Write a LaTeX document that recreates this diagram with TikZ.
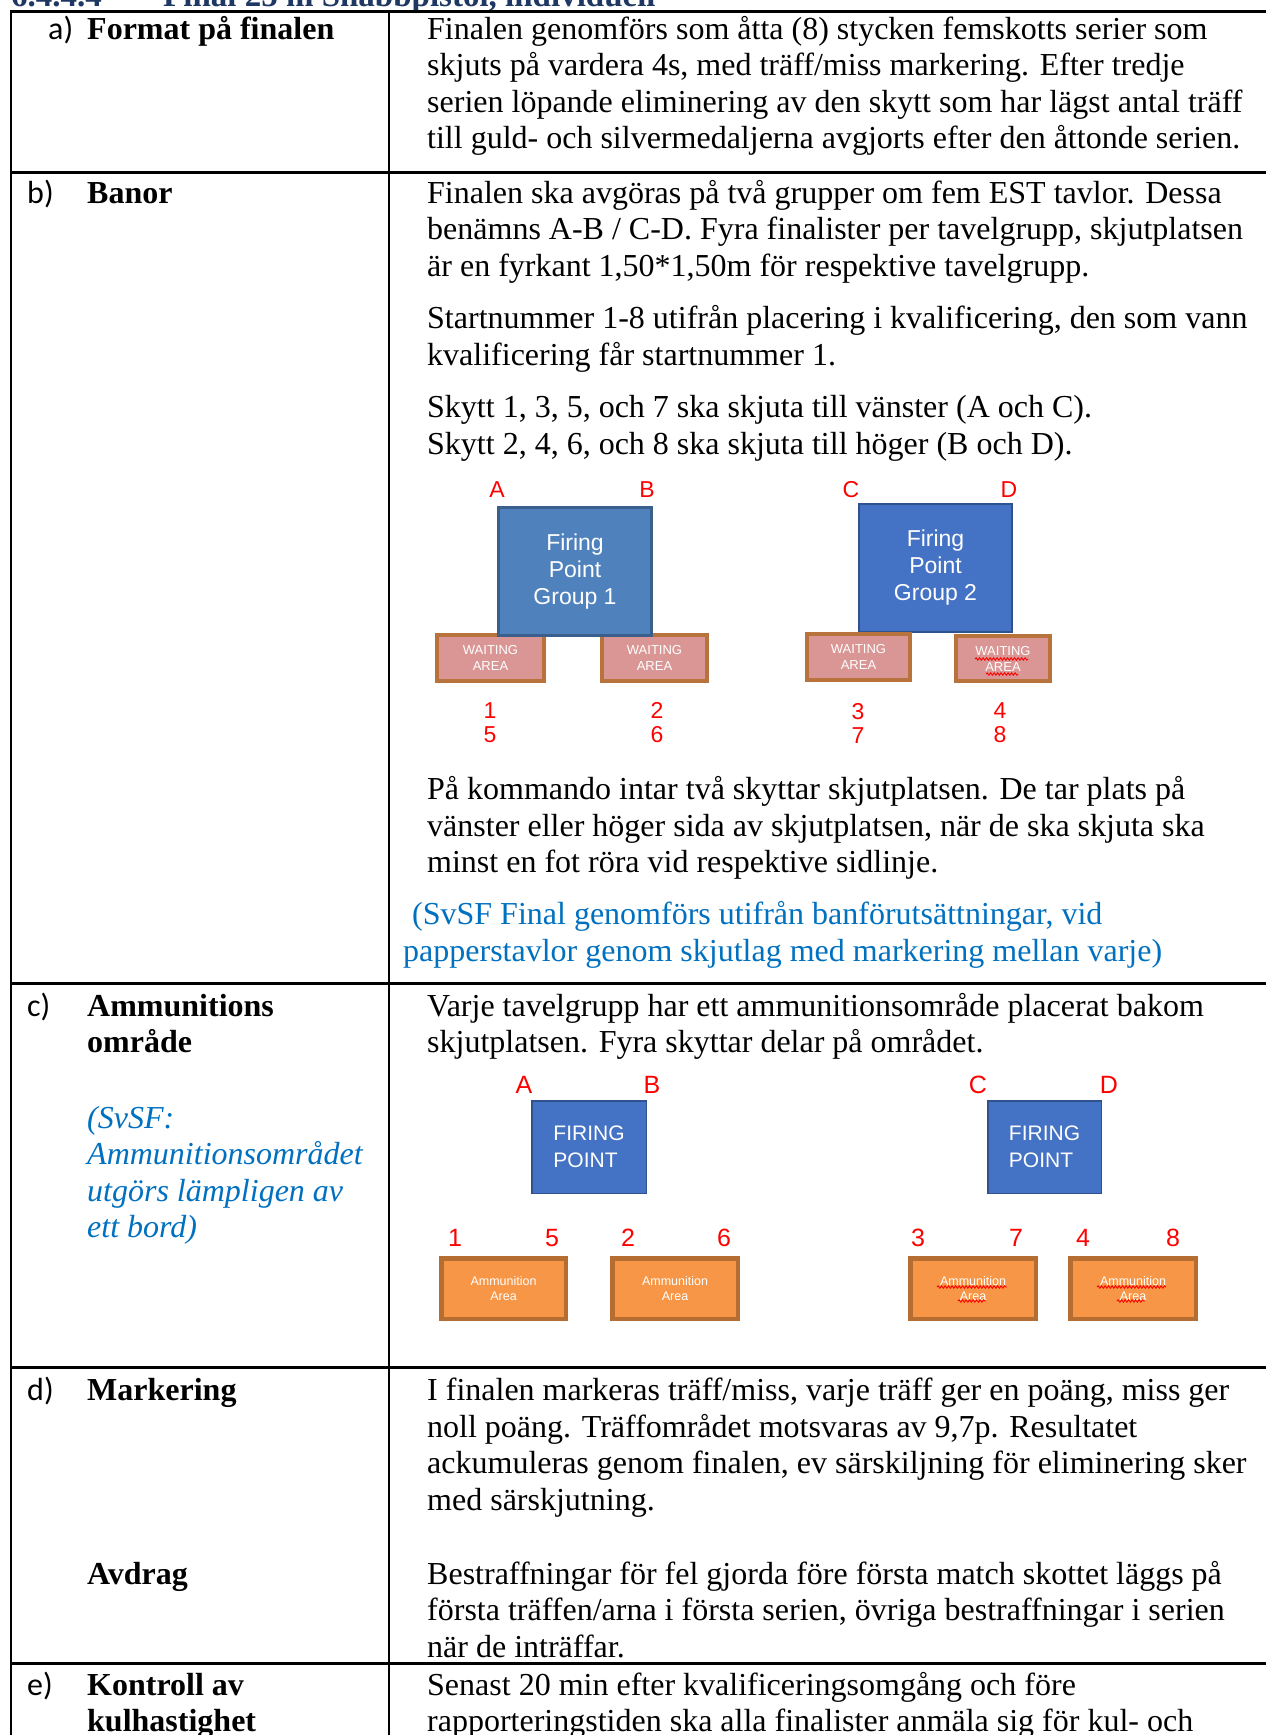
\documentclass[tikz,border=0pt]{standalone}
\usepackage{fontspec}
\setmainfont{Liberation Serif}
\newfontfamily\arialf{Liberation Sans}
\newfontfamily\calf{Carlito}
\usetikzlibrary{decorations.pathmorphing}
\definecolor{fpone}{HTML}{4F81BD}
\definecolor{fponeb}{HTML}{3A5F8C}
\definecolor{fptwo}{HTML}{4472C4}
\definecolor{fptwob}{HTML}{2F528F}
\definecolor{waitf}{HTML}{D99694}
\definecolor{waitb}{HTML}{B8733D}
\definecolor{ammof}{HTML}{F79646}
\definecolor{ammob}{HTML}{B66D31}
\definecolor{noteblue}{HTML}{0070C0}
\definecolor{headblue}{HTML}{1F3763}
\definecolor{mark}{HTML}{FF0000}
\begin{document}
\begin{tikzpicture}[x=1pt,y=-1pt,
  body/.style={anchor=base west, inner sep=0, font=\fontsize{32}{36.5}\selectfont},
  note/.style={body, text=noteblue},
  inote/.style={body, text=noteblue, font=\itshape\fontsize{32}{36.5}\selectfont},
  lbl/.style={anchor=base west, inner sep=0, font=\bfseries\fontsize{32}{36.5}\selectfont},
  tag/.style={anchor=base west, inner sep=0, font=\calf\fontsize{32}{36.5}\selectfont},
  head/.style={anchor=base west, inner sep=0, text=headblue, font=\bfseries\fontsize{33}{36}\selectfont},
  rule/.style={line width=3pt},
  vrule/.style={line width=2pt},
  letterA/.style={inner sep=0, text=mark, font=\arialf\fontsize{23}{24}\selectfont, align=center},
  letterB/.style={inner sep=0, text=mark, font=\arialf\fontsize{25}{25}\selectfont, align=center},
  fpbox/.style={draw=fponeb, fill=fpone, line width=3pt, text=white, inner sep=0,
    font=\arialf\fontsize{23}{27}\selectfont, align=center},
  fpboxb/.style={draw=fptwob, fill=fptwo, line width=2pt, text=white, inner sep=0,
    font=\arialf\fontsize{23}{27}\selectfont, align=center},
  fpsmall/.style={draw=fptwob, fill=fptwo, line width=1.5pt, text=white, inner sep=0,
    font=\arialf\fontsize{21}{27}\selectfont, align=left},
  waitbox/.style={draw=waitb, fill=waitf, line width=4pt, text=white, inner sep=0,
    font=\arialf\fontsize{13}{16}\selectfont, align=center},
  ammobox/.style={draw=ammob, fill=ammof, line width=4.5pt, text=white, inner sep=0,
    font=\arialf\fontsize{12.5}{14.5}\selectfont, align=center},
  squig/.style={draw=mark, line width=0.9pt, decorate, decoration={snake, amplitude=1.2pt, segment length=3.5pt}}
]
\useasboundingbox (0,0) rectangle (1266,1735);
\clip (0,0) rectangle (1266,1735);
\fill[white] (0,0) rectangle (1266,1735);

% heading (cut off at top)
\node[head] (h1) at (11,6) {6.4.4.4};
\node[head] (h2) at (163,6) {Final 25 m Snabbpistol, individuell};

% table rules
\draw[vrule] (11,10) -- (11,1735);
\draw[vrule] (389,10) -- (389,1735);
\draw[rule] (10,11) -- (1266,11);
\draw[rule] (10,172) -- (1266,172);
\draw[rule] (10,983) -- (1266,983);
\draw[rule] (10,1367) -- (1266,1367);
\draw[rule] (10,1663) -- (1266,1663);

% row a
\node[tag] (ta) at (48,39) {a)};
\node[lbl] (la) at (87,39) {Format på finalen};
\node[body] (a1) at (427,39) {Finalen genomförs som åtta (8) stycken femskotts serier som};
\node[body] (a2) at (427,75.5) {skjuts på vardera 4s, med träff/miss markering. Efter tredje};
\node[body] (a3) at (427,112) {serien löpande eliminering av den skytt som har lägst antal träff};
\node[body] (a4) at (427,148.5) {till guld- och silvermedaljerna avgjorts efter den åttonde serien.};

% row b
\node[tag] (tb) at (27,203) {b)};
\node[lbl] (lb) at (87,203) {Banor};
\node[body] (b1) at (427,203) {Finalen ska avgöras på två grupper om fem EST tavlor. Dessa};
\node[body] (b2) at (427,239.5) {benämns A-B / C-D. Fyra finalister per tavelgrupp, skjutplatsen};
\node[body] (b3) at (427,276) {är en fyrkant 1,50*1,50m för respektive tavelgrupp.};
\node[body] (b4) at (427,328.5) {Startnummer 1-8 utifrån placering i kvalificering, den som vann};
\node[body] (b5) at (427,365) {kvalificering får startnummer 1.};
\node[body] (b6) at (427,417.5) {Skytt 1, 3, 5, och 7 ska skjuta till vänster (A och C).};
\node[body] (b7) at (427,454) {Skytt 2, 4, 6, och 8 ska skjuta till höger (B och D).};
\node[body] (b8) at (427,799) {På kommando intar två skyttar skjutplatsen. De tar plats på};
\node[body] (b9) at (427,836) {vänster eller höger sida av skjutplatsen, när de ska skjuta ska};
\node[body] (b10) at (427,872) {minst en fot röra vid respektive sidlinje.};
\node[note] (b11) at (412,924) {(SvSF Final genomförs utifrån banförutsättningar, vid};
\node[note] (b12) at (403,961) {papperstavlor genom skjutlag med markering mellan varje)};

% diagram 1
\node[waitbox, minimum width=107, minimum height=46] (wa1) at (490.5,658) {WAITING\\AREA};
\node[waitbox, minimum width=105, minimum height=46] (wa2) at (654.5,658) {WAITING\\AREA};
\node[fpbox, minimum width=153, minimum height=128] (fg1) at (575,571.5) {Firing\\Point\\Group 1};
\node[fpboxb, minimum width=153, minimum height=128] (fg2) at (935.5,568) {Firing\\Point\\Group 2};
\node[waitbox, minimum width=103, minimum height=46] (wa3) at (858.5,657) {WAITING\\AREA};
\node[waitbox, minimum width=94, minimum height=45] (wa4) at (1003,658.5) {WAITING\\AREA};
\draw[squig] (975,659) -- (1028,659);
\draw[squig] (986,674) -- (1018,674);
\node[letterA] (dA) at (497,490) {A};
\node[letterA] (dB) at (647,490) {B};
\node[letterA] (dC) at (851,490) {C};
\node[letterA] (dD) at (1009,490) {D};
\node[letterA] (n15) at (490,723) {1\\5};
\node[letterA] (n26) at (657,723) {2\\6};
\node[letterA] (n37) at (858,723) {3\\7};
\node[letterA] (n48) at (1000,723) {4\\8};

% row c
\node[tag] (tc) at (27,1016) {c)};
\node[lbl] (lc1) at (87,1016) {Ammunitions};
\node[lbl] (lc2) at (87,1052) {område};
\node[inote] (ic1) at (87,1128) {(SvSF:};
\node[inote] (ic2) at (87,1164.5) {Ammunitionsområdet};
\node[inote] (ic3) at (87,1201) {utgörs lämpligen av};
\node[inote] (ic4) at (87,1237.5) {ett bord)};
\node[body] (c1) at (427,1016) {Varje tavelgrupp har ett ammunitionsområde placerat bakom};
\node[body] (c2) at (427,1052) {skjutplatsen. Fyra skyttar delar på området.};

% diagram 2
\node[fpsmall, minimum width=114.5, minimum height=92.5] (fp1) at (589,1147) {FIRING\\POINT};
\node[fpsmall, minimum width=113.5, minimum height=92.5] (fp2) at (1044.5,1147) {FIRING\\POINT};
\node[letterB] (eA) at (524,1085) {A};
\node[letterB] (eB) at (652,1085) {B};
\node[letterB] (eC) at (978,1085) {C};
\node[letterB] (eD) at (1109,1085) {D};
\node[letterB] (m1) at (455,1238) {1};
\node[letterB] (m5) at (552,1238) {5};
\node[letterB] (m2) at (628,1238) {2};
\node[letterB] (m6) at (724,1238) {6};
\node[letterB] (m3) at (918,1238) {3};
\node[letterB] (m7) at (1016,1238) {7};
\node[letterB] (m4) at (1083,1238) {4};
\node[letterB] (m8) at (1173,1238) {8};
\node[ammobox, minimum width=124.5, minimum height=60.5] (aa1) at (503.5,1288.5) {Ammunition\\Area};
\node[ammobox, minimum width=125.5, minimum height=60.5] (aa2) at (675,1288.5) {Ammunition\\Area};
\node[ammobox, minimum width=125.5, minimum height=60.5] (aa3) at (973,1288.5) {Ammunition\\Area};
\node[ammobox, minimum width=125.5, minimum height=60.5] (aa4) at (1133,1288.5) {Ammunition\\Area};
\draw[squig] (937,1287) -- (1007,1287);
\draw[squig] (958,1301) -- (986,1301);
\draw[squig] (1097,1287) -- (1166,1287);
\draw[squig] (1117,1301) -- (1145,1301);

% row d
\node[tag] (td) at (27,1400) {d)};
\node[lbl] (ld1) at (87,1400) {Markering};
\node[lbl] (ld2) at (87,1584) {Avdrag};
\node[body] (d1) at (427,1400) {I finalen markeras träff/miss, varje träff ger en poäng, miss ger};
\node[body] (d2) at (427,1437) {noll poäng. Träffområdet motsvaras av 9,7p. Resultatet};
\node[body] (d3) at (427,1473) {ackumuleras genom finalen, ev särskiljning för eliminering sker};
\node[body] (d4) at (427,1510) {med särskjutning.};
\node[body] (d5) at (427,1584) {Bestraffningar för fel gjorda före första match skottet läggs på};
\node[body] (d6) at (427,1620.5) {första träffen/arna i första serien, övriga bestraffningar i serien};
\node[body] (d7) at (427,1657) {när de inträffar.};

% row e
\node[tag] (te) at (27,1695) {e)};
\node[lbl] (le1) at (87,1695) {Kontroll av};
\node[lbl] (le2) at (87,1731.5) {kulhastighet};
\node[body] (e1) at (427,1695) {Senast 20 min efter kvalificeringsomgång och före};
\node[body] (e2) at (427,1731.5) {rapporteringstiden ska alla finalister anmäla sig för kul- och};
\end{tikzpicture}
\end{document}
